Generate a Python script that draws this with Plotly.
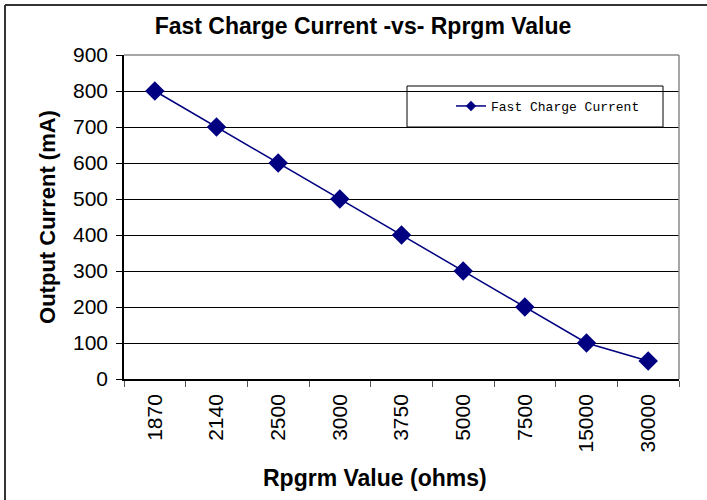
import plotly.graph_objects as go

# %%
rprgm_labels = ["1870", "2140", "2500", "3000", "3750", "5000", "7500", "15000", "30000"]
fast_charge_ma = [800, 700, 600, 500, 400, 300, 200, 100, 50]
y_ticks = [0, 100, 200, 300, 400, 500, 600, 700, 800, 900]

W, H = 707, 500
L, R, T, B = 124, 28, 55, 121
pw, ph = W - L - R, H - T - B


def px_x(x):
    return (x - L) / pw


def px_y(y):
    return (H - B - y) / ph


# %%
fig = go.Figure()
fig.add_trace(go.Scatter(
    x=rprgm_labels,
    y=fast_charge_ma,
    mode="lines+markers",
    name="Fast Charge Current",
    showlegend=False,
    line=dict(color="#000080", width=1.5),
    marker=dict(symbol="diamond", size=15, color="#000080"),
))
# legend entry with the small diamond the original legend uses
fig.add_trace(go.Scatter(
    x=[None], y=[None],
    mode="lines+markers",
    name="Fast Charge Current",
    line=dict(color="#000080", width=1.5),
    marker=dict(symbol="diamond", size=8, color="#000080"),
))

# outer frame and grey top/right plot border
frame = [
    (px_x(5), px_y(5), px_x(710), px_y(5), "#333333", 2),
    (px_x(5), px_y(5), px_x(5), px_y(503), "#333333", 2),
    (0, 1, 1, 1, "#888888", 1.5),
    (1, 0, 1, 1, "#888888", 1.5),
]
for x0, y0, x1, y1, c, w in frame:
    fig.add_shape(type="line", xref="paper", yref="paper",
                  x0=x0, y0=y0, x1=x1, y1=y1, line=dict(color=c, width=w))

# legend box
fig.add_shape(type="rect", xref="paper", yref="paper",
              x0=px_x(407), x1=px_x(663), y0=px_y(127), y1=px_y(86),
              line=dict(color="black", width=1), fillcolor="white", layer="below")

# x axis title sits left of the plot centre in the original
fig.add_annotation(
    text="<b>Rpgrm Value (ohms)</b>",
    xref="paper", yref="paper",
    x=px_x(375), y=px_y(478),
    xanchor="center", yanchor="middle",
    showarrow=False,
    font=dict(size=23),
)

fig.update_layout(
    width=W, height=H,
    margin=dict(l=L, r=R, t=T, b=B),
    paper_bgcolor="white",
    plot_bgcolor="white",
    font=dict(family="Liberation Sans, Arial", color="black"),
    title=dict(
        text="<b>Fast Charge Current -vs- Rprgm Value</b>",
        x=363 / W, xanchor="center",
        y=1 - 26 / H, yanchor="middle",
        font=dict(size=23),
    ),
    showlegend=True,
    legend=dict(
        x=px_x(451), xanchor="left",
        y=px_y(106), yanchor="middle",
        bgcolor="rgba(0,0,0,0)",
        borderwidth=0,
        font=dict(family="Liberation Mono, Courier New", size=13),
    ),
    xaxis=dict(
        type="category",
        tickson="boundaries",
        ticks="outside", ticklen=6, tickcolor="#555555",
        tickangle=-90,
        tickfont=dict(size=21),
        ticklabelstandoff=5,
        showline=True, linecolor="black", linewidth=1.5,
        showgrid=False,
        range=[-0.5, len(rprgm_labels) - 0.5],
    ),
    yaxis=dict(
        range=[0, 900],
        tickvals=y_ticks,
        ticks="outside", ticklen=6, tickcolor="black",
        tickfont=dict(size=21),
        ticklabelstandoff=4,
        showline=True, linecolor="black", linewidth=1.5,
        showgrid=True, gridcolor="black", gridwidth=1,
        zeroline=False,
        title=dict(text="<b>Output Current (mA)</b>", font=dict(size=22), standoff=11),
    ),
)

fig.write_html("out.html", config={"displayModeBar": False},
               post_script="document.body.style.margin='0';")
